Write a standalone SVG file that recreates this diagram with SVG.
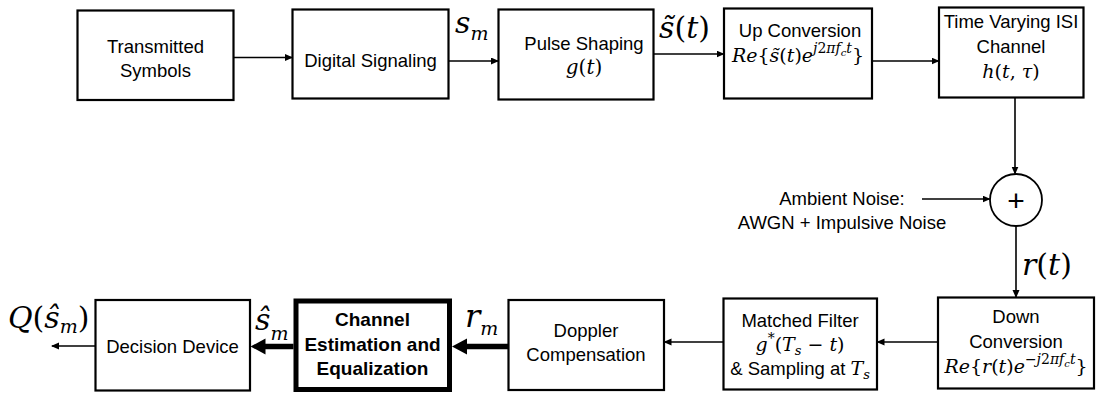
<svg xmlns="http://www.w3.org/2000/svg" width="1101" height="394" viewBox="0 0 1101 394">
<style>
.b{fill:#fff;stroke:#000;stroke-width:2.2}
.bt{fill:#fff;stroke:#000;stroke-width:5}
.t{font-family:"Liberation Sans",Arial,sans-serif;font-size:18.5px;fill:#000;text-anchor:middle}
.tb{font-family:"Liberation Sans",Arial,sans-serif;font-size:19px;font-weight:bold;fill:#000;text-anchor:middle}
.m{font-family:"DejaVu Serif","Liberation Serif",serif;fill:#000}
.mc{text-anchor:middle}
.i{font-style:italic}
.ln{fill:none;stroke:#000;stroke-width:1.6}
.lk{fill:none;stroke:#000;stroke-width:5.5}
</style>
<defs>
<marker id="ah" markerUnits="userSpaceOnUse" markerWidth="8" markerHeight="8" refX="7" refY="3.5" orient="auto">
<path d="M0,0 L8,3.5 L0,7 z" fill="#000"/>
</marker>
<marker id="ahk" markerUnits="userSpaceOnUse" markerWidth="16" markerHeight="17" refX="1" refY="8" orient="auto">
<path d="M0,0 L15,8 L0,16 z" fill="#000"/>
</marker>
</defs>
<rect width="1101" height="394" fill="#fff"/>

<g id="connectors">
<path class="ln" d="M233.5,57.5 H292" marker-end="url(#ah)"/>
<path class="ln" d="M448.5,61 H498" marker-end="url(#ah)"/>
<path class="ln" d="M653.5,54 H723.5" marker-end="url(#ah)"/>
<path class="ln" d="M872,61 H938.5" marker-end="url(#ah)"/>
<path class="ln" d="M1015,97.5 V173.5" marker-end="url(#ah)"/>
<path class="ln" d="M922,199 H989.5" marker-end="url(#ah)"/>
<path class="ln" d="M1016,226 V297" marker-end="url(#ah)"/>
<path class="ln" d="M938,342 H877.5" marker-end="url(#ah)"/>
<path class="ln" d="M723.5,342 H664.5" marker-end="url(#ah)"/>
<path class="lk" d="M508.5,346.5 H466" marker-end="url(#ahk)"/>
<path class="lk" d="M293.5,346.5 H264.5" marker-end="url(#ahk)"/>
<path class="ln" d="M95.5,346 H52" marker-end="url(#ah)"/>
<text class="m" x="455" y="33" style="font-size:30px"><tspan class="i">s</tspan><tspan class="i" style="font-size:19px" dy="7">m</tspan></text>
<text class="m" x="659" y="38" style="font-size:30px"><tspan class="i">s&#771;</tspan>(<tspan class="i">t</tspan>)</text>
<text class="m" x="1022" y="275" style="font-size:30px"><tspan class="i">r</tspan>(<tspan class="i">t</tspan>)</text>
<text class="m" x="465" y="327" style="font-size:32px"><tspan class="i">r</tspan><tspan class="i" style="font-size:19px" dy="8">m</tspan></text>
<text class="m" x="255" y="330" style="font-size:30px"><tspan class="i">ŝ</tspan><tspan class="i" style="font-size:19px" dy="10">m</tspan></text>
<text class="m" x="8" y="328" style="font-size:30px"><tspan class="i">Q</tspan>(<tspan class="i">ŝ</tspan><tspan class="i" style="font-size:19px" dy="5">m</tspan><tspan dy="-5">)</tspan></text>
</g>

<g id="n-transmitted">
<rect class="b" x="77.5" y="10.5" width="156" height="89.5"/>
<text class="t" x="155.5" y="53">Transmitted</text>
<text class="t" x="155.5" y="77">Symbols</text>
</g>
<g id="n-digital">
<rect class="b" x="292.5" y="9.5" width="156" height="89"/>
<text class="t" x="370.5" y="67">Digital Signaling</text>
</g>
<g id="n-pulse">
<rect class="b" x="498.5" y="9.5" width="155" height="90"/>
<text class="t" x="584" y="50">Pulse Shaping</text>
<text class="m mc" x="584" y="74" style="font-size:20px"><tspan class="i">g</tspan>(<tspan class="i">t</tspan>)</text>
</g>
<g id="n-up">
<rect class="b" x="724" y="8.5" width="148" height="90"/>
<text class="t" x="800" y="37">Up Conversion</text>
<text class="m mc" x="798" y="62" style="font-size:19px"><tspan class="i">Re</tspan>{<tspan class="i">s&#771;</tspan>(<tspan class="i">t</tspan>)<tspan class="i">e</tspan><tspan class="i" style="font-size:14px" dy="-9">j</tspan><tspan style="font-size:14px">2</tspan><tspan class="i" style="font-size:14px">πf</tspan><tspan class="i" style="font-size:10px" dy="3">c</tspan><tspan class="i" style="font-size:14px" dy="-3">t</tspan><tspan dy="9">}</tspan></text>
</g>
<g id="n-channel">
<rect class="b" x="939" y="7.5" width="144.5" height="90"/>
<text class="t" x="1011" y="28">Time Varying ISI</text>
<text class="t" x="1011" y="53">Channel</text>
<text class="m mc" x="1011" y="78" style="font-size:19px"><tspan class="i">h</tspan>(<tspan class="i">t</tspan>, <tspan class="i">τ</tspan>)</text>
</g>
<g id="n-sum">
<circle cx="1016" cy="200" r="26" fill="#fff" stroke="#000" stroke-width="1.8"/>
<text x="1016" y="211" font-family="Liberation Sans,Arial,sans-serif" font-size="30" text-anchor="middle">+</text>
</g>
<g id="n-noise">
<text class="t" x="842" y="205">Ambient Noise:</text>
<text class="t" x="842" y="229">AWGN + Impulsive Noise</text>
</g>
<g id="n-down">
<rect class="b" x="938" y="297.5" width="156" height="91"/>
<text class="t" x="1016" y="323">Down</text>
<text class="t" x="1016" y="348">Conversion</text>
<text class="m mc" x="1016" y="373" style="font-size:19px"><tspan class="i">Re</tspan>{<tspan class="i">r</tspan>(<tspan class="i">t</tspan>)<tspan class="i">e</tspan><tspan style="font-size:14px" dy="-9">−</tspan><tspan class="i" style="font-size:14px">j</tspan><tspan style="font-size:14px">2</tspan><tspan class="i" style="font-size:14px">πf</tspan><tspan class="i" style="font-size:10px" dy="3">c</tspan><tspan class="i" style="font-size:14px" dy="-3">t</tspan><tspan dy="9">}</tspan></text>
</g>
<g id="n-matched">
<rect class="b" x="723.5" y="298.5" width="153.5" height="91"/>
<text class="t" x="800" y="327">Matched Filter</text>
<text class="m mc" x="800" y="351" style="font-size:19px"><tspan class="i">g</tspan><tspan style="font-size:14px" dy="-8">*</tspan><tspan dy="8">(</tspan><tspan class="i">T</tspan><tspan class="i" style="font-size:13px" dy="4">s</tspan><tspan dy="-4"> − </tspan><tspan class="i">t</tspan>)</text>
<text class="t" x="800" y="375">&amp; Sampling at <tspan class="m i" style="font-size:19px">T</tspan><tspan class="m i" style="font-size:13px" dy="4">s</tspan></text>
</g>
<g id="n-doppler">
<rect class="b" x="508.5" y="300" width="155.5" height="90"/>
<text class="t" x="586" y="337">Doppler</text>
<text class="t" x="586" y="361">Compensation</text>
</g>
<g id="n-equalizer">
<rect class="bt" x="296" y="301" width="153.5" height="88.5"/>
<text class="tb" x="372.5" y="326">Channel</text>
<text class="tb" x="372.5" y="351">Estimation and</text>
<text class="tb" x="372.5" y="375">Equalization</text>
</g>
<g id="n-decision">
<rect class="b" x="95.5" y="300" width="154.5" height="90.5"/>
<text class="t" x="172.5" y="353">Decision Device</text>
</g>
</svg>
